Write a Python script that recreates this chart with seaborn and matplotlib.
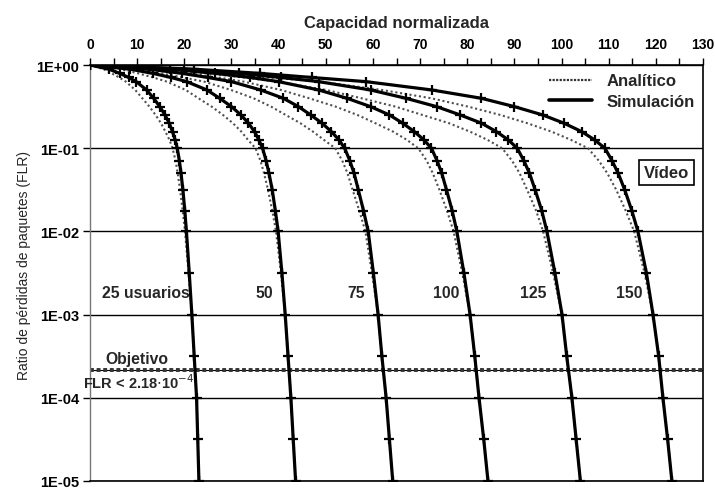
import numpy as np
import pandas as pd
import matplotlib
matplotlib.use("Agg")
import matplotlib.pyplot as plt
from matplotlib.lines import Line2D
import seaborn as sns

# ---------------- data ----------------
users = [25, 50, 75, 100, 125, 150]
user_labels = ["25 usuarios", "50", "75", "100", "125", "150"]
user_label_x = [21.2, 38.8, 58.3, 78.3, 96.9, 117.1]   # right edge of each label
user_label_flr = 1.82e-3

flr_levels = [1.0, 0.891, 0.794, 0.708, 0.631, 0.501, 0.398, 0.316, 0.251, 0.2,
              0.158, 0.126, 0.1, 0.0708, 0.0501, 0.0316, 0.0178, 0.01,
              0.00316, 0.001, 3.16e-4, 1e-4, 3.16e-5, 1e-5]

sim_25 = [0, 4.0, 6.3, 8.2, 9.8, 12.0, 13.5, 14.8, 15.9, 16.8, 17.5, 18.05, 18.5,
          18.95, 19.3, 19.7, 20.1, 20.45, 21.05, 21.6, 22.1, 22.6, 22.85, 23.1]
sim_50 = [0, 8.5, 13.3, 17.2, 20.5, 24.8, 27.5, 30.0, 32.0, 33.6, 34.9, 35.8, 36.6,
          37.35, 37.95, 38.65, 39.3, 39.9, 40.7, 41.4, 42.0, 42.6, 43.1, 43.6]
sim_75 = [0, 12.5, 19.5, 25.0, 30.0, 36.2, 41.0, 44.2, 46.8, 49.2, 51.2, 52.8, 54.0,
          55.1, 56.0, 56.9, 58.0, 59.0, 60.1, 61.1, 61.9, 62.8, 63.5, 64.2]
sim_100 = [0, 17.0, 26.5, 34.0, 40.0, 48.5, 54.5, 59.5, 63.5, 66.3, 68.8, 70.8, 72.4,
           73.6, 74.6, 75.6, 76.8, 77.8, 79.3, 80.6, 81.6, 82.5, 83.5, 84.4]
sim_125 = [0, 20.0, 31.5, 40.5, 48.5, 59.5, 67.0, 73.5, 78.5, 83.0, 86.2, 88.7, 90.6,
           92.0, 93.2, 94.4, 95.8, 96.9, 98.6, 100.1, 101.1, 102.2, 103.1, 104.0]
sim_150 = [0, 22.0, 36.0, 47.0, 58.5, 72.5, 83.0, 90.0, 96.0, 100.5, 104.3, 107.0, 109.2,
           110.7, 112.0, 113.4, 114.9, 116.2, 118.0, 119.4, 120.6, 121.5, 122.5, 123.4]

ana_25 = [0, 2.9, 4.6, 6.2, 7.6, 9.6, 11.1, 12.6, 13.9, 15.05, 16.0, 16.85, 17.5,
          18.15, 18.6, 19.1, 19.65, 20.15, 20.9, 21.6, 22.1, 22.6, 22.85, 23.1]
ana_50 = [0, 6.4, 10.2, 13.4, 16.3, 20.3, 23.0, 25.8, 28.2, 30.3, 32.1, 33.5, 35.1,
          36.15, 36.9, 37.75, 38.65, 39.45, 40.5, 41.4, 42.0, 42.6, 43.1, 43.6]
ana_75 = [0, 9.6, 15.1, 19.7, 24.2, 29.9, 34.7, 38.4, 41.5, 44.6, 47.3, 49.6, 52.0,
          53.5, 54.6, 55.7, 57.1, 58.4, 59.8, 61.1, 61.9, 62.8, 63.5, 64.2]
ana_100 = [0, 13.3, 21.0, 27.2, 32.6, 40.5, 46.5, 52.1, 56.7, 60.5, 64.3, 67.2, 69.6,
           71.4, 72.7, 74.1, 75.7, 77.1, 78.95, 80.6, 81.6, 82.5, 83.5, 84.4]
ana_125 = [0, 15.65, 25.0, 32.5, 39.8, 50.1, 57.6, 64.8, 70.5, 76.1, 80.6, 84.3, 87.4,
           89.5, 91.1, 92.7, 94.6, 96.1, 98.2, 100.1, 101.1, 102.2, 103.1, 104.0]
ana_150 = [0, 17.1, 28.6, 38.0, 48.7, 61.9, 72.4, 80.2, 87.0, 92.7, 97.9, 102.0, 105.6,
           107.9, 109.7, 111.6, 113.6, 115.4, 117.6, 119.4, 120.6, 121.5, 122.5, 123.4]

objective_flr = 2.18e-4
x_ticks_major = list(range(0, 131, 10))
x_ticks_minor = list(range(5, 131, 10))
y_ticks = [1, 1e-1, 1e-2, 1e-3, 1e-4, 1e-5]
y_ticklabels = ["1E+00", "1E-01", "1E-02", "1E-03", "1E-04", "1E-05"]

sim_all = [sim_25, sim_50, sim_75, sim_100, sim_125, sim_150]
ana_all = [ana_25, ana_50, ana_75, ana_100, ana_125, ana_150]

rows = []
for n, s, a in zip(users, sim_all, ana_all):
    for x, y in zip(s, flr_levels):
        rows.append({"usuarios": n, "tipo": "Simulación", "cap": x, "flr": y})
    for x, y in zip(a, flr_levels):
        rows.append({"usuarios": n, "tipo": "Analítico", "cap": x, "flr": y})
df = pd.DataFrame(rows)

# ---------------- plot ----------------
sns.set_style("white")
plt.rcParams["font.family"] = ["Liberation Sans", "DejaVu Sans"]

fig = plt.figure(figsize=(7.15, 4.89), dpi=100)
ax = fig.add_axes([90 / 715, 7 / 489, 613 / 715, 416 / 489])

for n in users:
    d_a = df[(df.usuarios == n) & (df.tipo == "Analítico")]
    sns.lineplot(data=d_a, x="cap", y="flr", ax=ax, sort=False, estimator=None,
                 color="#505050", lw=1.5, linestyle=(0, (1, 1.3)), zorder=3)
    d_s = df[(df.usuarios == n) & (df.tipo == "Simulación")]
    sns.lineplot(data=d_s, x="cap", y="flr", ax=ax, sort=False, estimator=None,
                 color="black", lw=2.3, marker="+", markersize=7,
                 markeredgecolor="black", markeredgewidth=1.6, zorder=4)

ax.set_yscale("log")
ax.set_xlim(0, 130)
ax.set_ylim(1e-5, 1)

# horizontal grid lines at decades
for yv in y_ticks:
    ax.axhline(yv, color="black", lw=1.0, zorder=1)
# objective line (double dotted band)
ax.axhline(objective_flr, color="black", lw=0.8, zorder=2)
ax.axhline(objective_flr, color="#333333", lw=2.8, linestyle=(0, (1, 0.7)), zorder=2)

ax.xaxis.tick_top()
ax.xaxis.set_label_position("top")
ax.set_xticks(x_ticks_major)
ax.set_xticks(x_ticks_minor, minor=True)
ax.set_xticklabels([str(v) for v in x_ticks_major], fontsize=10, fontweight="bold")
ax.tick_params(axis="x", which="both", direction="out", length=5, width=1,
               top=True, bottom=False, pad=5, colors="black")
ax.set_yticks(y_ticks)
ax.set_yticklabels(y_ticklabels, fontsize=10.5, fontweight="bold")
ax.yaxis.set_minor_locator(matplotlib.ticker.NullLocator())
ax.tick_params(axis="y", direction="out", length=5, width=1, left=True, pad=3,
               colors="black")

ax.set_xlabel("Capacidad normalizada", fontsize=12, fontweight="bold", labelpad=7)
ax.set_ylabel("Ratio de pérdidas de paquetes (FLR)", fontsize=10)
ax.yaxis.set_label_coords(-0.097, 0.52)

for side in ["top", "right", "bottom"]:
    ax.spines[side].set_color("black")
    ax.spines[side].set_linewidth(1.2)
ax.spines["left"].set_color("#777777")
ax.spines["left"].set_linewidth(1.0)

# legend
handles = [Line2D([], [], color="#333333", lw=1.6, linestyle=(0, (1, 0.6))),
           Line2D([], [], color="black", lw=2.6)]
ax.legend(handles, ["Analítico", "Simulación"], loc="upper right",
          frameon=False, handlelength=2.6, handletextpad=0.85,
          borderaxespad=0.1, labelspacing=0.35,
          prop={"weight": "bold", "size": 12})

# Vídeo box
ax.text(122.2, 0.0515, "Vídeo", ha="center", va="center", fontsize=12,
        fontweight="bold", zorder=6,
        bbox=dict(boxstyle="square,pad=0.3", fc="white", ec="black", lw=1.2))

# user labels
for lab, xv in zip(user_labels, user_label_x):
    ax.text(xv, user_label_flr, lab, ha="right", va="center", fontsize=11.3,
            fontweight="bold", zorder=5)

ax.text(3.2, 2.95e-4, "Objetivo", ha="left", va="center", fontsize=11.3,
        fontweight="bold")
ax.text(-1.5, 1.55e-4, r"FLR < 2.18$\cdot$10$^{-4}$", ha="left", va="center",
        fontsize=10.5, fontweight="bold", zorder=6)

fig.savefig("out.png", dpi=100, facecolor="white")
